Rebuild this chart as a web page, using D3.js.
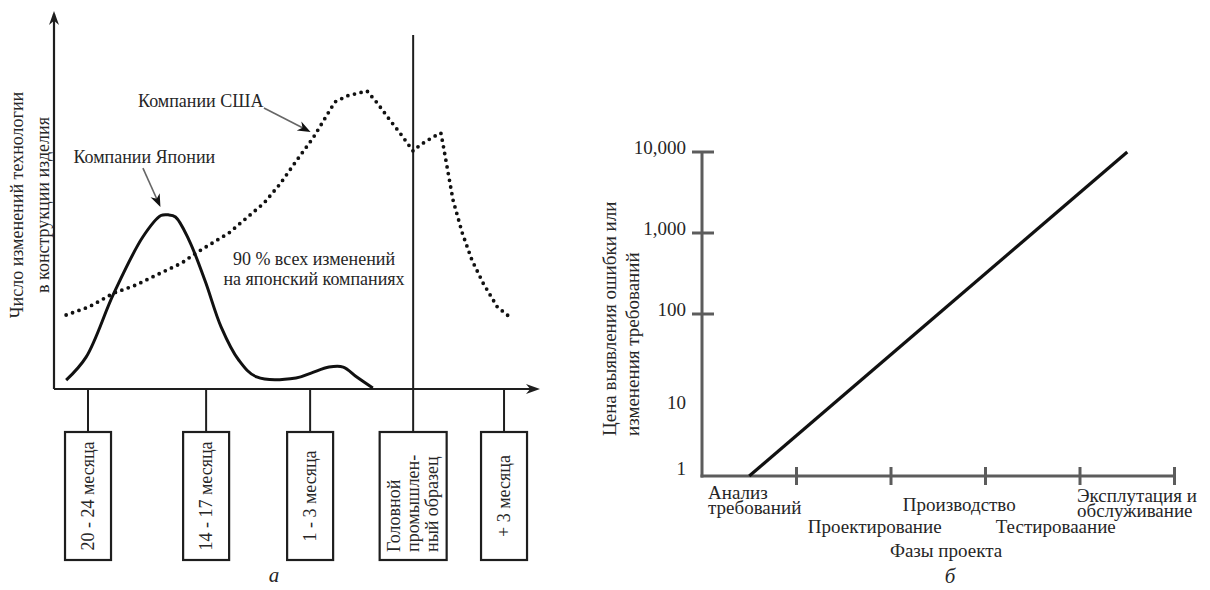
<!DOCTYPE html>
<html><head><meta charset="utf-8">
<script src="https://cdn.jsdelivr.net/npm/d3@7"></script>
<style>
body{margin:0;background:#fff}
svg{display:block}
text{font-family:"Liberation Serif","Times New Roman",serif;fill:#262626}
</style>
</head><body>
<svg id="c" width="1210" height="590"></svg>
<script>
// ===== Chart (а): data =====
const milestoneLines = [["20 - 24 месяца"], ["14 - 17 месяца"], ["1 - 3 месяца"], ["Головной", "промышлен-", "ный образец"], ["+ 3 месяца"]];
const milestoneT = [7, 31.3, 52.7, 73.9, 92.6];           // position on time axis (0..100)
const japanT = [2.5, 6.6, 12.3, 18.3, 22, 23.5, 25, 27.8, 31.1, 34.4, 38, 41.7, 49.8, 52.9, 56.6, 59.5, 62.3, 65.6];
const japanV = [2.5, 9, 27, 43, 49, 49.2, 48.6, 42, 30.5, 17.5, 8.2, 3.4, 3.1, 4.5, 6.2, 6.2, 3.4, 0.3];
const usaT = [2.5, 7.2, 12.3, 16.9, 22, 26.3, 29.2, 36, 43.2, 46.5, 50, 53.3, 57.8, 60.3, 64.4, 66.5, 69.1, 71.2, 73.9, 75.3, 78, 79.6, 80, 82.1, 84, 86, 88.3, 91.2, 94];
const usaV = [20.9, 23.2, 27.1, 29.4, 32.8, 35.6, 38.4, 44.1, 52.5, 57.9, 64.7, 70.9, 81.1, 82.8, 84.2, 80.8, 76, 72.3, 67.2, 68.9, 71.2, 72.3, 69.5, 53.4, 44.1, 36.4, 29.9, 23.2, 20.1];
const yTitleA = ["Число изменений технологии", "в конструкции изделия"];
const usaLabel = "Компании США";
const japanLabel = "Компании Японии";
const noteLines = ["90 % всех изменений", "на японский компаниях"];

// ===== Chart (б): data =====
const phases = ["Анализ требований", "Проектирование", "Производство", "Тестироваание", "Эксплутация и обслуживание"];
const phaseLines = [["Анализ", "требований"], ["Проектирование"], ["Производство"], ["Тестироваание"], ["Эксплутация и", "обслуживание"]];
const phaseCost = [1, 10, 100, 1000, 10000];
const costTickValues = [1, 10, 100, 1000, 10000];
const costTickMarks = [100, 1000, 10000];
const yTitleB = ["Цена выявления ошибки или", "изменения требований"];
const xTitleB = "Фазы проекта";

const svg = d3.select("#c");

// ================= Chart (а) =================
const xA = d3.scaleLinear().domain([0, 100]).range([54, 540]);
const yA = d3.scaleLinear().domain([0, 100]).range([389, 35]);
const gA = svg.append("g");
const axisCol = "#1e1e1e";

function arrowHead(g, x, y, ang, len, wid, col) {
  g.append("path")
    .attr("d", `M0,0 L${-len},${-wid} L${-len * 0.7},0 L${-len},${wid} Z`)
    .attr("transform", `translate(${x},${y}) rotate(${ang})`)
    .attr("fill", col);
}

// axes
gA.append("line").attr("x1", xA(0)).attr("x2", xA(0)).attr("y1", yA(0)).attr("y2", 14)
  .attr("stroke", axisCol).attr("stroke-width", 2.2);
arrowHead(gA, xA(0), 11, -90, 14, 5, axisCol);
gA.append("line").attr("x1", xA(0)).attr("x2", xA(100) - 4).attr("y1", yA(0)).attr("y2", yA(0))
  .attr("stroke", axisCol).attr("stroke-width", 2.2);
arrowHead(gA, xA(100), yA(0), 0, 14, 5, axisCol);

// milestone ticks + boxes
const boxTop = 432, boxBot = 560;
milestoneLines.forEach((lines, i) => {
  const cx = xA(milestoneT[i]);
  const w = lines.length > 1 ? 67 : 46;
  gA.append("line").attr("x1", cx).attr("x2", cx)
    .attr("y1", i === 3 ? yA(100) : yA(0)).attr("y2", boxTop)
    .attr("stroke", axisCol).attr("stroke-width", 2);
  gA.append("rect").attr("x", cx - w / 2).attr("y", boxTop).attr("width", w).attr("height", boxBot - boxTop)
    .attr("fill", "none").attr("stroke", axisCol).attr("stroke-width", 2.2);
  if (lines.length === 1) {
    gA.append("text").attr("transform", `translate(${cx},${(boxTop + boxBot) / 2}) rotate(-90)`)
      .attr("text-anchor", "middle").attr("dy", "0.35em").style("font-size", "18px").text(lines[0]);
  } else {
    const t = gA.append("text").attr("transform", `translate(${cx - 19},${boxBot - 8}) rotate(-90)`)
      .attr("text-anchor", "start").style("font-size", "18px");
    lines.forEach((l, j) => {
      t.append("tspan").attr("x", 0).attr("dy", j === 0 ? "0.35em" : 19).text(l);
    });
  }
});

// curves
const lineA = d3.line().x(d => xA(d[0])).y(d => yA(d[1]));
gA.append("path").datum(usaT.map((t, i) => [t, usaV[i]]))
  .attr("d", lineA.curve(d3.curveLinear)).attr("fill", "none")
  .attr("stroke", "#111").attr("stroke-width", 3.8).attr("stroke-linecap", "round")
  .attr("stroke-dasharray", "0,6.8");
gA.append("path").datum(japanT.map((t, i) => [t, japanV[i]]))
  .attr("d", d3.line().x(d => xA(d[0])).y(d => yA(d[1])).curve(d3.curveCatmullRom.alpha(0.5)))
  .attr("fill", "none").attr("stroke", "#111").attr("stroke-width", 3).attr("stroke-linejoin", "round");

// annotations
gA.append("text").attr("x", xA(17.3)).attr("y", yA(79.7)).style("font-size", "18px").text(usaLabel);
gA.append("text").attr("x", xA(4)).attr("y", yA(63.9)).style("font-size", "18px").text(japanLabel);
function pointer(t0, v0, t1, v1) {
  const x0 = xA(t0), y0 = yA(v0), x1 = xA(t1), y1 = yA(v1);
  const ang = Math.atan2(y1 - y0, x1 - x0) * 180 / Math.PI;
  gA.append("line").attr("x1", x0).attr("y1", y0).attr("x2", x1 - 8 * Math.cos(ang * Math.PI / 180)).attr("y2", y1 - 8 * Math.sin(ang * Math.PI / 180))
    .attr("stroke", "#666").attr("stroke-width", 1.6);
  arrowHead(gA, x1, y1, ang, 13, 5, "#111");
}
pointer(43.2, 79.4, 52.8, 72.6);
pointer(18.3, 62.4, 21.9, 51.4);
const note = gA.append("text").attr("text-anchor", "middle").style("font-size", "18px");
noteLines.forEach((l, j) => {
  note.append("tspan").attr("x", xA(53.5)).attr("y", yA(35) + j * 20).text(l);
});
// y title
const yt = gA.append("text").attr("transform", `translate(23,205) rotate(-90)`)
  .attr("text-anchor", "middle").style("font-size", "18px");
yTitleA.forEach((l, j) => {
  yt.append("tspan").attr("x", 0).attr("y", j * 26).text(l);
});
gA.append("text").attr("x", 274).attr("y", 582).attr("text-anchor", "middle")
  .style("font-size", "21px").style("font-style", "italic").text("а");

// ================= Chart (б) =================
const xB = d3.scaleBand().domain(phases).range([702, 1174.5]).padding(0);
const yB = d3.scaleLog().domain([1, 10000]).range([476, 152]);
const gB = svg.append("g");
const axB = "#5c5c5c";

gB.append("line").attr("x1", xB.range()[0]).attr("x2", xB.range()[0]).attr("y1", yB(10000)).attr("y2", yB(1) + 1.5)
  .attr("stroke", axB).attr("stroke-width", 3);
gB.append("line").attr("x1", xB.range()[0] - 1.5).attr("x2", xB.range()[1]).attr("y1", yB(1)).attr("y2", yB(1))
  .attr("stroke", axB).attr("stroke-width", 3);
// y ticks
costTickMarks.forEach(v => {
  gB.append("line").attr("x1", xB.range()[0] - 10).attr("x2", xB.range()[0] + 12)
    .attr("y1", yB(v)).attr("y2", yB(v)).attr("stroke", axB).attr("stroke-width", 3);
});
costTickValues.forEach(v => {
  gB.append("text").attr("x", 686).attr("y", yB(v) - (v === 1 ? 8 : (v === 10 ? -7 : 5)))
    .attr("dy", "0.35em").attr("text-anchor", "end").style("font-size", "19px").text(d3.format(",")(v));
});
// x ticks at phase boundaries
phases.forEach(p => {
  const x = xB(p) + xB.bandwidth();
  gB.append("line").attr("x1", x).attr("x2", x).attr("y1", yB(1) - 9).attr("y2", yB(1) + 9)
    .attr("stroke", axB).attr("stroke-width", 3);
});
// phase labels (layout: alternating rows under the axis)
const bw = xB.bandwidth();
const labelShift = [0, 31, 21, 23, 0];
phaseLines.forEach((lines, i) => {
  const x0 = xB(phases[i]);
  let x, anchor, y0;
  if (i === 0) { x = x0 + 6; anchor = "start"; y0 = 499; }
  else if (i === 4) { x = x0 - 3; anchor = "start"; y0 = 502; }
  else { x = x0 + bw / 2 + labelShift[i]; anchor = "middle"; y0 = (i % 2 === 1) ? 533 : 511; }
  const t = gB.append("text").attr("text-anchor", anchor).style("font-size", "19px");
  lines.forEach((l, j) => {
    t.append("tspan").attr("x", x).attr("y", y0 + j * 15).text(l);
  });
});
// line
gB.append("path").datum(phases.map((p, i) => [p, phaseCost[i]]))
  .attr("d", d3.line().x(d => xB(d[0]) + bw / 2).y(d => yB(d[1])))
  .attr("fill", "none").attr("stroke", "#111").attr("stroke-width", 3.2);
// titles
const ytb = gB.append("text").attr("transform", `translate(616,436) rotate(-90)`)
  .attr("text-anchor", "start").style("font-size", "19px");
yTitleB.forEach((l, j) => {
  ytb.append("tspan").attr("x", 0).attr("y", j * 23).text(l);
});
gB.append("text").attr("x", 946).attr("y", 557).attr("text-anchor", "middle").style("font-size", "19px").text(xTitleB);
gB.append("text").attr("x", 950).attr("y", 583).attr("text-anchor", "middle")
  .style("font-size", "21px").style("font-style", "italic").text("б");
</script>
</body></html>
